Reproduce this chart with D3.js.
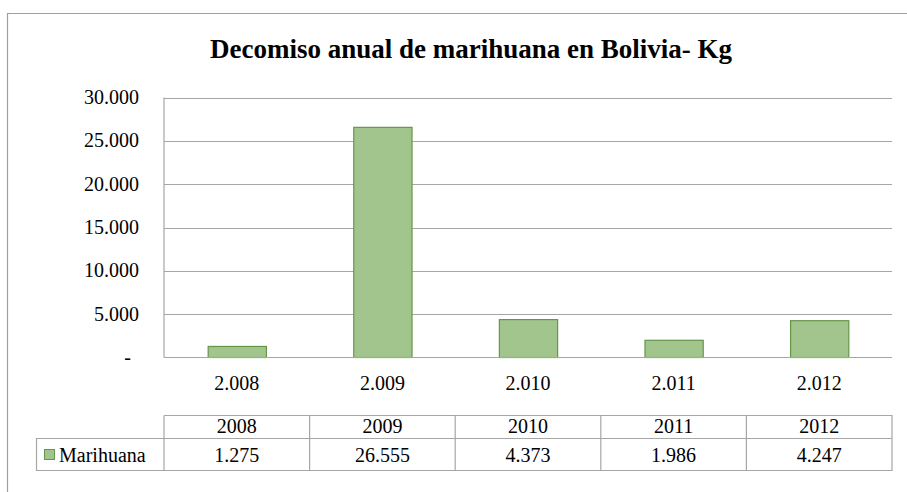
<!DOCTYPE html>
<html>
<head>
<meta charset="utf-8">
<script src="https://cdn.jsdelivr.net/npm/d3@7"></script>
</head>
<body style="margin:0;background:#fff">
<svg id="chart" width="907" height="492" style="display:block"></svg>
<script>
// Seizure data (kg) by year
const years = ["2008", "2009", "2010", "2011", "2012"];
const axisLabels = ["2.008", "2.009", "2.010", "2.011", "2.012"];
const seriesName = "Marihuana";
const values = [1275, 26555, 4373, 1986, 4247];
const yTicks = [0, 5000, 10000, 15000, 20000, 25000, 30000];
const chartTitle = "Decomiso anual de marihuana en Bolivia- Kg";

const FONT = '"Times New Roman", "Tinos", "Liberation Serif", "FreeSerif", serif';
const svg = d3.select("#chart");
const W = 907, H = 492;
const plot = { left: 164, right: 892, top: 97.5, bottom: 357.5 };
const gridColor = "#a6a6a6";
const barFill = "#a2c58e";
const barStroke = "#66954a";

// thousands separator with a dot, dash for zero
const fmt = v => v === 0 ? "-" : d3.format(",")(v).replace(/,/g, ".");
const serif = sel => sel.style("font-family", FONT).style("font-size", "20px");

// outer frame
svg.append("path")
  .attr("d", `M7.5,${H + 2} V13.5 H${W + 2}`)
  .attr("fill", "none").attr("stroke", "#a0a0a0").attr("stroke-width", 1.2);

// title
svg.append("text")
  .attr("x", 471).attr("y", 58)
  .attr("text-anchor", "middle")
  .style("font-family", FONT).style("font-size", "27px").style("font-weight", "bold")
  .text(chartTitle);

const x = d3.scaleBand().domain(years).range([plot.left, plot.right]).paddingInner(0.6).paddingOuter(0.3);
const xCell = d3.scaleBand().domain(years).range([plot.left, plot.right]);
const y = d3.scaleLinear().domain([0, 30000]).range([plot.bottom, plot.top]);

// gridlines
svg.append("g").selectAll("line").data(yTicks.filter(t => t > 0)).join("line")
  .attr("x1", plot.left).attr("x2", plot.right)
  .attr("y1", d => Math.round(y(d)) + 0.5).attr("y2", d => Math.round(y(d)) + 0.5)
  .attr("stroke", gridColor).attr("stroke-width", 1.2);

// value axis labels
svg.append("g").selectAll("text").data(yTicks).join("text")
  .attr("x", d => d === 0 ? 131 : 139)
  .attr("y", d => y(d))
  .attr("dy", "0.33em")
  .attr("text-anchor", "end")
  .call(serif)
  .text(fmt);

// value axis line
svg.append("line")
  .attr("x1", plot.left).attr("x2", plot.left)
  .attr("y1", y(30000)).attr("y2", y(0))
  .attr("stroke", gridColor).attr("stroke-width", 1.2);

// bars
svg.append("g").selectAll("rect").data(values).join("rect")
  .attr("x", (d, i) => x(years[i]) + 0.5)
  .attr("width", x.bandwidth())
  .attr("y", d => y(d))
  .attr("height", d => y(0) - y(d))
  .attr("fill", barFill).attr("stroke", barStroke).attr("stroke-width", 1.2);

// baseline
svg.append("line")
  .attr("x1", plot.left).attr("x2", plot.right)
  .attr("y1", plot.bottom).attr("y2", plot.bottom)
  .attr("stroke", gridColor).attr("stroke-width", 1.2);

// category labels
svg.append("g").selectAll("text").data(years).join("text")
  .attr("x", d => xCell(d) + xCell.bandwidth() / 2).attr("y", 390)
  .attr("text-anchor", "middle").call(serif)
  .text((d, i) => axisLabels[i]);

// data table
const tTop = 415.5, tMid = 438.5, tBot = 470.5, legendLeft = 36.5;
const table = svg.append("g").attr("fill", "none").attr("stroke", gridColor).attr("stroke-width", 1.2);
table.append("path").attr("d",
  `M${plot.left},${tTop} H${plot.right} V${tBot} H${legendLeft} V${tMid} H${plot.right}`);
xCell.domain().forEach(d => {
  table.append("line").attr("x1", xCell(d)).attr("x2", xCell(d)).attr("y1", tTop).attr("y2", tBot);
});

svg.append("g").selectAll("text").data(years).join("text")
  .attr("x", d => xCell(d) + xCell.bandwidth() / 2).attr("y", 433)
  .attr("text-anchor", "middle").call(serif)
  .text(d => d);

svg.append("g").selectAll("text").data(values).join("text")
  .attr("x", (d, i) => xCell(years[i]) + xCell.bandwidth() / 2).attr("y", 461.5)
  .attr("text-anchor", "middle").call(serif)
  .text(fmt);

// legend key and series name
svg.append("rect")
  .attr("x", 44.5).attr("y", 449.5).attr("width", 10).attr("height", 10)
  .attr("fill", barFill).attr("stroke", barStroke).attr("stroke-width", 1);
svg.append("text")
  .attr("x", 59).attr("y", 461.5).call(serif)
  .text(seriesName);
</script>
</body>
</html>
